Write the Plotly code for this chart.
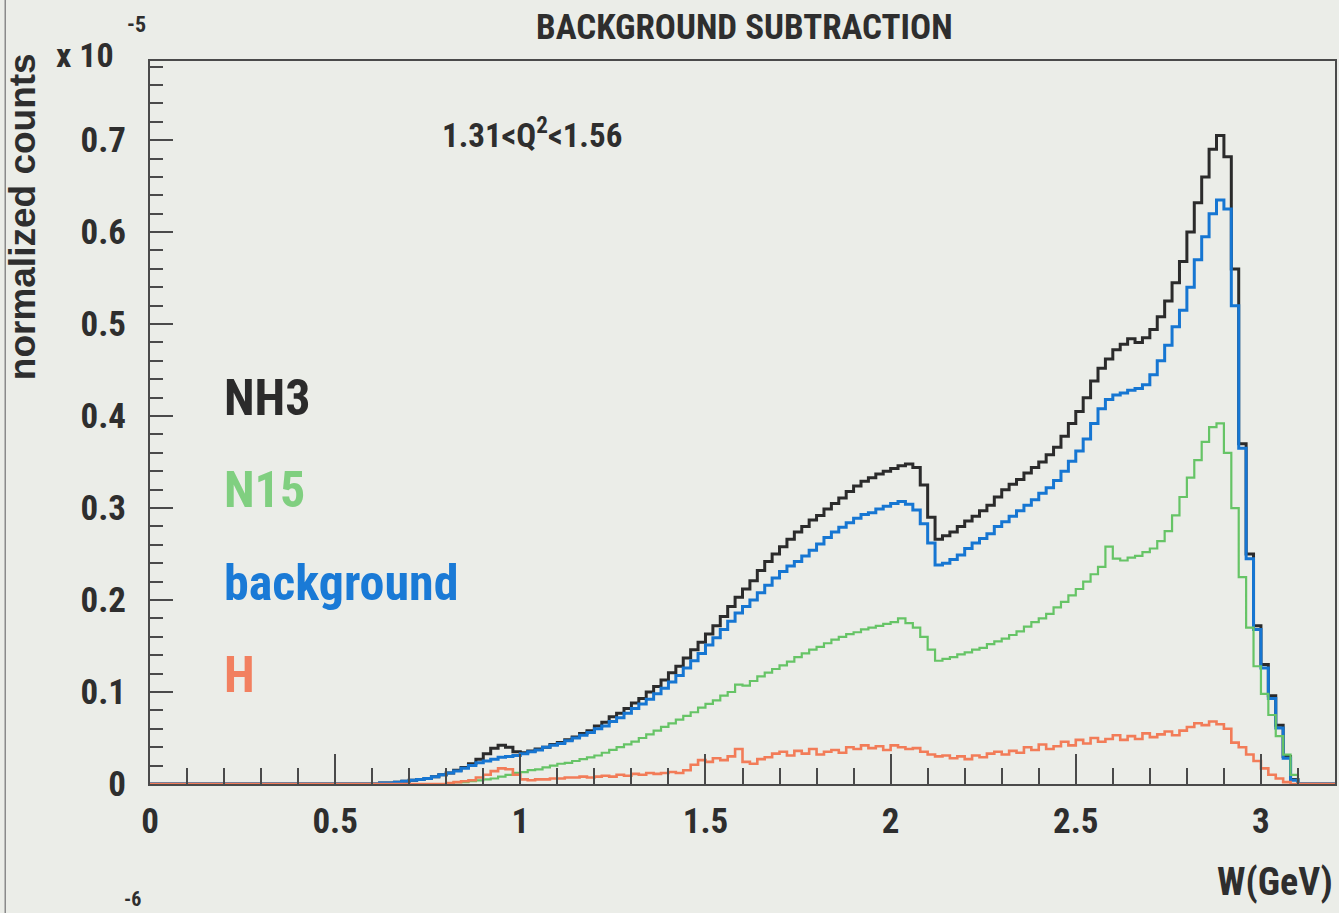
import numpy as np
import plotly.graph_objects as go

# W histogram binning (GeV): 160 bins of 0.02 from 0 to 3.2
BIN_W = 0.02
N_BINS = 160

# normalized counts (units of 1e-5) per W bin
nh3 = [
    0, 0, 0, 0, 0, 0, 0, 0, 0, 0,
    0, 0, 0, 0, 0, 0, 0, 0, 0, 0,
    0, 0, 0, 0, 0, 0, 0, 0, 0, 0,
    0.000, 0.001, 0.001, 0.002, 0.003, 0.004, 0.005, 0.006, 0.008, 0.010,
    0.012, 0.015, 0.018, 0.022, 0.027, 0.033, 0.039, 0.042, 0.040, 0.035,
    0.034, 0.036, 0.038, 0.040, 0.043, 0.045, 0.048, 0.051, 0.055, 0.058,
    0.063, 0.067, 0.073, 0.077, 0.082, 0.088, 0.093, 0.100, 0.106, 0.113,
    0.121, 0.128, 0.137, 0.146, 0.154, 0.163, 0.172, 0.182, 0.193, 0.203,
    0.212, 0.221, 0.232, 0.242, 0.250, 0.258, 0.266, 0.274, 0.280, 0.287,
    0.292, 0.299, 0.305, 0.311, 0.318, 0.324, 0.329, 0.333, 0.337, 0.340,
    0.343, 0.346, 0.348, 0.344, 0.325, 0.290, 0.266, 0.270, 0.274, 0.280,
    0.286, 0.291, 0.297, 0.303, 0.312, 0.320, 0.326, 0.331, 0.338, 0.344,
    0.350, 0.358, 0.366, 0.378, 0.392, 0.405, 0.420, 0.438, 0.452, 0.462,
    0.472, 0.478, 0.484, 0.480, 0.485, 0.494, 0.508, 0.525, 0.545, 0.568,
    0.600, 0.632, 0.660, 0.690, 0.705, 0.682, 0.560, 0.370, 0.250, 0.172,
    0.130, 0.096, 0.064, 0.030, 0.005, 0, 0, 0, 0, 0,
]

background = [
    0, 0, 0, 0, 0, 0, 0, 0, 0, 0,
    0, 0, 0, 0, 0, 0, 0, 0, 0, 0,
    0, 0, 0, 0, 0, 0, 0, 0, 0, 0,
    0.000, 0.001, 0.001, 0.002, 0.003, 0.004, 0.005, 0.006, 0.008, 0.010,
    0.012, 0.014, 0.017, 0.020, 0.023, 0.025, 0.027, 0.029, 0.030, 0.031,
    0.033, 0.035, 0.037, 0.040, 0.042, 0.044, 0.047, 0.050, 0.053, 0.056,
    0.060, 0.063, 0.068, 0.072, 0.077, 0.082, 0.087, 0.092, 0.098, 0.104,
    0.111, 0.118, 0.126, 0.134, 0.142, 0.151, 0.159, 0.168, 0.177, 0.186,
    0.193, 0.200, 0.208, 0.216, 0.224, 0.231, 0.237, 0.242, 0.248, 0.254,
    0.261, 0.268, 0.274, 0.279, 0.284, 0.289, 0.293, 0.295, 0.299, 0.302,
    0.305, 0.307, 0.304, 0.298, 0.283, 0.262, 0.238, 0.240, 0.244, 0.249,
    0.256, 0.262, 0.267, 0.272, 0.280, 0.285, 0.291, 0.297, 0.303, 0.309,
    0.316, 0.322, 0.330, 0.340, 0.351, 0.362, 0.375, 0.392, 0.408, 0.418,
    0.423, 0.425, 0.428, 0.430, 0.434, 0.445, 0.460, 0.477, 0.497, 0.515,
    0.540, 0.570, 0.595, 0.620, 0.635, 0.625, 0.520, 0.365, 0.245, 0.168,
    0.126, 0.093, 0.061, 0.028, 0.004, 0, 0, 0, 0, 0,
]

n15 = [
    0, 0, 0, 0, 0, 0, 0, 0, 0, 0,
    0, 0, 0, 0, 0, 0, 0, 0, 0, 0,
    0, 0, 0, 0, 0, 0, 0, 0, 0, 0,
    0, 0, 0, 0, 0, 0, 0, 0, 0, 0,
    0.001, 0.002, 0.002, 0.003, 0.004, 0.005, 0.006, 0.008, 0.010, 0.012,
    0.013, 0.015, 0.016, 0.018, 0.020, 0.022, 0.023, 0.025, 0.027, 0.029,
    0.031, 0.034, 0.037, 0.040, 0.043, 0.046, 0.050, 0.054, 0.058, 0.062,
    0.066, 0.070, 0.074, 0.078, 0.083, 0.087, 0.091, 0.096, 0.100, 0.108,
    0.107, 0.112, 0.117, 0.121, 0.125, 0.129, 0.133, 0.138, 0.142, 0.146,
    0.149, 0.153, 0.157, 0.160, 0.163, 0.165, 0.168, 0.170, 0.172, 0.174,
    0.176, 0.180, 0.175, 0.170, 0.160, 0.146, 0.134, 0.136, 0.138, 0.141,
    0.143, 0.146, 0.148, 0.152, 0.155, 0.158, 0.162, 0.166, 0.171, 0.176,
    0.180, 0.185, 0.192, 0.198, 0.205, 0.212, 0.220, 0.228, 0.236, 0.258,
    0.245, 0.243, 0.246, 0.248, 0.252, 0.256, 0.264, 0.275, 0.292, 0.312,
    0.333, 0.352, 0.372, 0.388, 0.392, 0.360, 0.300, 0.225, 0.170, 0.128,
    0.098, 0.075, 0.052, 0.032, 0.010, 0, 0, 0, 0, 0,
]

hydrogen = [
    0, 0, 0, 0, 0, 0, 0, 0, 0, 0,
    0, 0, 0, 0, 0, 0, 0, 0, 0, 0,
    0, 0, 0, 0, 0, 0, 0, 0, 0, 0,
    0, 0, 0, 0, 0, 0, 0, 0, 0, 0,
    0.001, 0.002, 0.003, 0.004, 0.007, 0.010, 0.014, 0.017, 0.016, 0.010,
    0.005, 0.004, 0.005, 0.005, 0.006, 0.006, 0.007, 0.007, 0.008, 0.007,
    0.008, 0.009, 0.008, 0.010, 0.009, 0.011, 0.010, 0.012, 0.011, 0.012,
    0.013, 0.012, 0.015, 0.021, 0.026, 0.024, 0.028, 0.026, 0.030, 0.038,
    0.024, 0.022, 0.027, 0.029, 0.033, 0.035, 0.031, 0.036, 0.033, 0.038,
    0.032, 0.035, 0.037, 0.034, 0.040, 0.038, 0.042, 0.039, 0.041, 0.037,
    0.042, 0.040, 0.038, 0.039, 0.035, 0.032, 0.030, 0.031, 0.028, 0.030,
    0.027, 0.031, 0.029, 0.033, 0.035, 0.032, 0.036, 0.034, 0.040, 0.037,
    0.043, 0.038, 0.041, 0.046, 0.042, 0.048, 0.044, 0.050, 0.046, 0.049,
    0.053, 0.048, 0.052, 0.049, 0.055, 0.051, 0.054, 0.057, 0.053, 0.058,
    0.062, 0.066, 0.064, 0.068, 0.065, 0.060, 0.045, 0.040, 0.032, 0.025,
    0.017, 0.010, 0.006, 0.002, 0, 0, 0, 0, 0, 0,
]

series_names = ["NH3", "N15", "background", "H"]
series_colors = {"NH3": "#2b2b2b", "N15": "#66c466", "background": "#1676d2", "H": "#f27c58"}
label_colors = {"NH3": "#2b2b2b", "N15": "#80cf80", "background": "#1a7ad6", "H": "#f28060"}
series_widths = {"NH3": 3, "N15": 2.2, "background": 3, "H": 2.6}

edges = np.round(np.arange(N_BINS + 1) * BIN_W, 2)

BG = "#ebede8"
INK = "#2e2e2e"
FONT = "Roboto Condensed, Liberation Sans, Arial, sans-serif"
WIDE = "Liberation Sans, Arial, sans-serif"

W, H = 1339, 913
ML, MR, MT, MB = 150, 2, 61, 129
PW, PH = W - ML - MR, H - MT - MB


def px(x):
    return (x - ML) / PW


def py(y):
    return (H - MB - y) / PH


fig = go.Figure()

draw_order = [("NH3", nh3), ("background", background), ("N15", n15), ("H", hydrogen)]
for name, vals in draw_order:
    fig.add_trace(go.Scatter(
        x=edges, y=list(vals) + [vals[-1]],
        mode="lines", line_shape="hv",
        line=dict(color=series_colors[name], width=series_widths[name]),
        name=name, showlegend=False, hoverinfo="skip",
    ))

axis_common = dict(
    showgrid=False, zeroline=False, showline=True, linecolor="#4a4a4a", linewidth=2,
    mirror=True, ticks="inside", tickcolor="#4a4a4a", tickwidth=1.5,
    tickfont=dict(family=FONT, size=35, color=INK, weight="bold"),
)

fig.update_xaxes(
    range=[0, 3.2], tickmode="linear", tick0=0, dtick=0.5, ticklen=30,
    minor=dict(dtick=0.1, ticklen=16, ticks="inside", tickcolor="#4a4a4a", tickwidth=1.5),
    ticklabelstandoff=5, **axis_common,
)
fig.update_yaxes(
    range=[0, 0.786], tickmode="linear", tick0=0, dtick=0.1, ticklen=23,
    minor=dict(dtick=0.02, ticklen=13, ticks="inside", tickcolor="#4a4a4a", tickwidth=1.5),
    ticklabelstandoff=15, **axis_common,
)


def note(x, y, text, size, color=INK, family=FONT, xanchor="center", angle=0):
    return dict(x=px(x), y=py(y), xref="paper", yref="paper", text=text, showarrow=False,
                xanchor=xanchor, yanchor="middle", textangle=angle,
                font=dict(family=family, size=size, color=color))


ann = [
    note(746, 28, "<b>BACKGROUND SUBTRACTION</b>", 35),
    note(22, 217, "<b>normalized counts</b>", 37, family=WIDE, angle=-90),
    note(85, 55, "<b>x 10</b>", 34),
    note(136, 25, "<b>-5</b>", 22),
    note(132, 899, "<b>-6</b>", 20),
    note(1337, 882, "<b>W(GeV)</b>", 38, xanchor="right"),
    note(440, 133, "<b>1.31<Q<sup>2</sup><1.56</b>", 33, xanchor="left"),
]
label_y = {"NH3": 398, "N15": 490, "background": 583, "H": 675}
for name in series_names:
    ann.append(note(222, label_y[name], "<b>%s</b>" % name, 50, color=label_colors[name], xanchor="left"))

fig.update_layout(
    width=W, height=H,
    margin=dict(l=ML, r=MR, t=MT, b=MB),
    paper_bgcolor=BG, plot_bgcolor=BG,
    annotations=ann,
    shapes=[dict(type="line", xref="paper", yref="paper", x0=px(5), x1=px(5), y0=py(0), y1=py(913),
                 line=dict(color="#8a8a8a", width=1.5))],
)

fig.write_html("out.html")
